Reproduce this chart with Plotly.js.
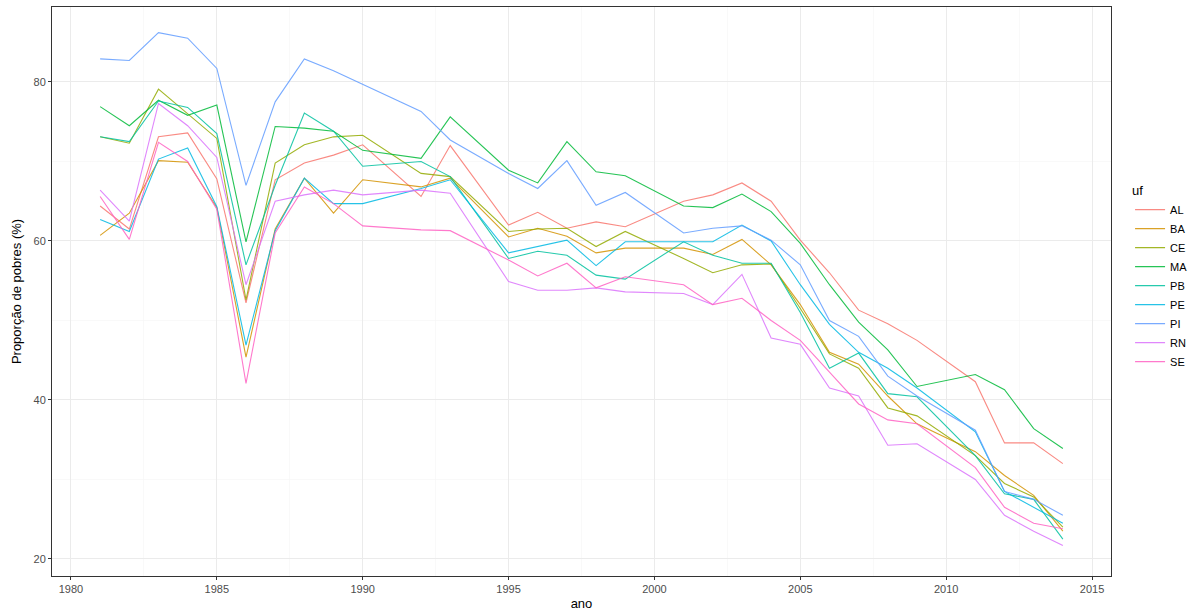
<!DOCTYPE html>
<html>
<head>
<meta charset="utf-8">
<script src="https://cdn.plot.ly/plotly-3.0.1.min.js"></script>
<style>html,body{margin:0;padding:0;background:#fff;}#chart{width:1200px;height:611px;}</style>
</head>
<body>
<div id="chart"></div>
<script>
const years = [1981,1982,1983,1984,1985,1986,1987,1988,1989,1990,1992,1993,1995,1996,1997,1998,1999,2001,2002,2003,2004,2005,2006,2007,2008,2009,2011,2012,2013,2014];
const ufs = ["AL","BA","CE","MA","PB","PE","PI","RN","SE"];
const AL = [64.4,61.5,73.1,73.6,67.8,52.2,67.7,69.8,70.8,72.1,65.6,72.0,62.0,63.6,61.6,62.4,61.8,65.0,65.8,67.3,65.0,60.1,56.0,51.3,49.6,47.5,42.3,34.6,34.6,32.0];
const BA = [60.7,63.5,70.1,69.9,64.2,45.4,61.5,67.9,63.5,67.7,66.8,67.9,60.5,61.6,60.6,58.5,59.1,59.1,58.3,60.2,57.0,52.0,46.0,44.5,40.5,37.0,33.5,30.5,28.0,23.5];
const CE = [73.1,72.3,79.1,76.0,72.9,52.6,69.8,72.1,73.1,73.3,68.5,68.1,61.2,61.5,61.6,59.3,61.2,57.8,56.0,57.0,57.1,51.5,45.8,44.0,39.0,38.0,33.0,29.5,27.8,24.0];
const MA = [76.9,74.5,77.7,75.8,77.1,59.9,74.4,74.2,73.8,71.4,70.4,75.6,68.9,67.3,72.5,68.7,68.2,64.4,64.2,65.9,63.7,59.7,54.5,49.8,46.3,41.7,43.2,41.3,36.4,33.9];
const PB = [73.1,72.5,77.6,76.8,73.5,57.0,67.0,76.1,73.8,69.4,70.0,68.1,57.8,58.7,58.2,55.7,55.2,59.9,58.2,57.2,57.2,51.0,44.0,45.9,40.8,40.4,33.0,28.2,27.5,22.5];
const PE = [62.7,61.2,70.3,71.7,64.3,46.9,61.3,67.9,64.7,64.7,66.6,67.7,58.5,59.3,60.1,56.9,59.9,59.9,59.9,62.0,60.0,54.5,49.5,46.0,44.0,41.5,36.0,28.5,26.5,24.5];
const PI = [82.9,82.7,86.2,85.5,81.7,67.0,77.5,82.9,81.4,79.7,76.3,72.7,68.5,66.6,70.1,64.5,66.1,61.0,61.6,61.9,60.1,57.0,50.0,48.0,43.0,40.5,36.2,28.5,27.5,25.5];
const RN = [66.4,62.5,77.3,74.5,70.5,54.5,65.0,65.8,66.4,65.8,66.4,66.0,54.9,53.8,53.8,54.1,53.6,53.4,52.0,55.8,47.8,47.0,41.5,40.5,34.3,34.5,30.0,25.5,23.5,21.7];
const SE = [65.6,60.2,72.4,70.0,64.0,42.1,61.0,66.8,64.7,61.9,61.4,61.3,57.6,55.6,57.2,54.1,55.5,54.5,52.0,52.8,50.0,47.5,43.5,39.5,37.5,37.0,31.5,26.5,24.5,23.8];
const series = {AL, BA, CE, MA, PB, PE, PI, RN, SE};
const colors = ["#F8766D","#D39200","#93AA00","#00BA38","#00C19F","#00B9E3","#619CFF","#DB72FB","#FF61C3"];

const traces = ufs.map((u, i) => ({
  type: "scatter", mode: "lines", name: u,
  x: years, y: series[u],
  line: {color: colors[i], width: 1.1},
  opacity: 0.85
}));

const font = {family: "Liberation Sans, Arial, sans-serif", size: 11, color: "#4D4D4D"};
const layout = {
  width: 1200, height: 611,
  margin: {l: 52, r: 73, t: 7, b: 35},
  paper_bgcolor: "#fff", plot_bgcolor: "#fff",
  font: font,
  showlegend: true,
  legend: {
    title: {text: "uf", font: {family: font.family, size: 13, color: "#000"}},
    x: 1.018, xanchor: "left", y: 0.525, yanchor: "middle",
    itemwidth: 30,
    font: {family: font.family, size: 11, color: "#000"},
    bgcolor: "rgba(0,0,0,0)", borderwidth: 0
  },
  xaxis: {
    range: [1979.35, 2015.65],
    tickvals: [1980,1985,1990,1995,2000,2005,2010,2015],
    ticks: "outside", ticklen: 3, tickcolor: "#333", tickwidth: 1,
    tickfont: {family: font.family, size: 11, color: "#4D4D4D"},
    showgrid: true, gridcolor: "#EBEBEB", gridwidth: 1,
    minor: {tickvals: [1982.5,1987.5,1992.5,1997.5,2002.5,2007.5,2012.5], showgrid: true, gridcolor: "#F5F5F5", gridwidth: 0.6, ticks: ""},
    zeroline: false,
    showline: true, mirror: true, linecolor: "#333", linewidth: 1,
    title: {text: "ano", font: {family: font.family, size: 13, color: "#000"}, standoff: 6}
  },
  yaxis: {
    range: [17.86, 89.43],
    tickvals: [20,40,60,80],
    ticks: "outside", ticklen: 3, tickcolor: "#333", tickwidth: 1,
    tickfont: {family: font.family, size: 11, color: "#4D4D4D"},
    showgrid: true, gridcolor: "#EBEBEB", gridwidth: 1,
    minor: {tickvals: [30,50,70], showgrid: true, gridcolor: "#F5F5F5", gridwidth: 0.6, ticks: ""},
    zeroline: false,
    showline: true, mirror: true, linecolor: "#333", linewidth: 1,
    title: {text: "Proporção de pobres (%)", font: {family: font.family, size: 13, color: "#000"}, standoff: 8}
  }
};
Plotly.newPlot("chart", traces, layout, {displayModeBar: false, staticPlot: true});
</script>
</body>
</html>
